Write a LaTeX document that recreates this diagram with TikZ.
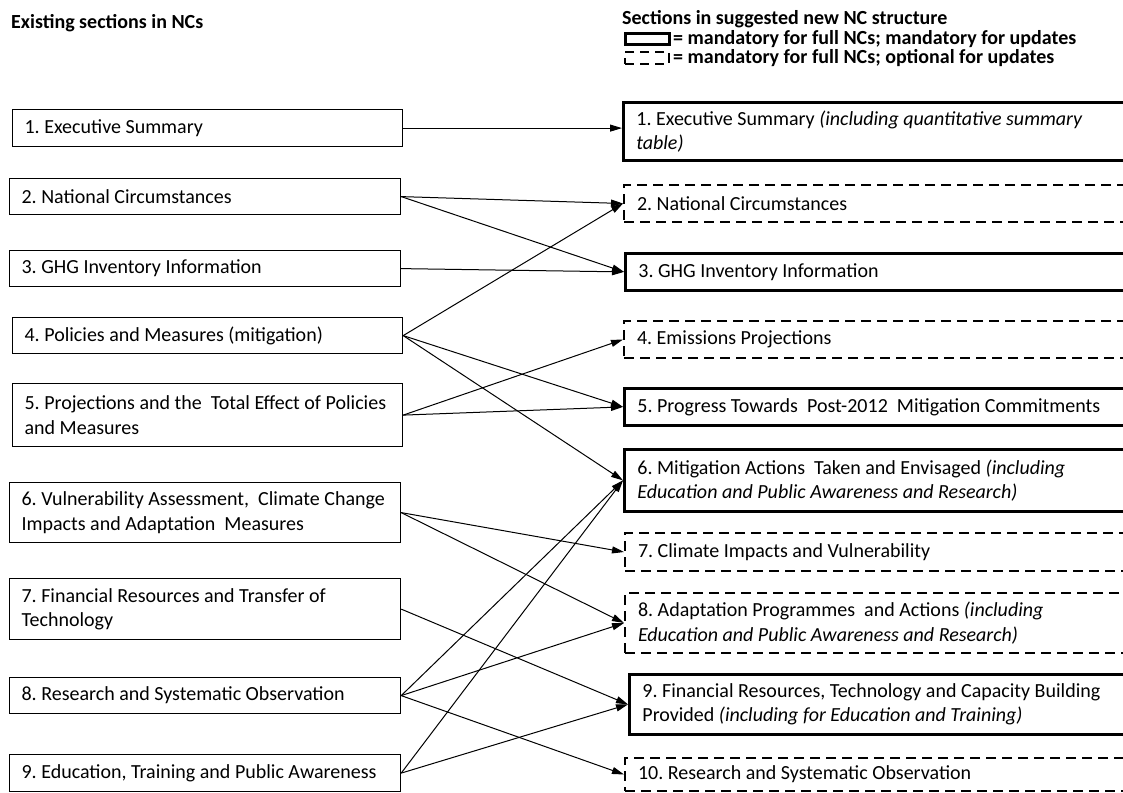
\documentclass[tikz,border=0pt]{standalone}
\usepackage{fontspec}
\setmainfont{Carlito}
\usetikzlibrary{arrows.meta}
\frenchspacing
\hyphenpenalty=10000
\begin{document}
\begin{tikzpicture}[x=1pt,y=-1pt,
  every node/.style={font=\fontsize{20}{24.4}\selectfont},
  lbox/.style={draw, line width=1.2pt, anchor=north west, align=flush left,
    text width=#1, inner xsep=12pt, inner ysep=0pt},
  rbase/.style={anchor=north west, align=flush left, text width=487pt,
    inner xsep=13pt, inner ysep=0pt},
  thickbox/.style={rbase, draw, line width=2.8pt},
  dashbox/.style={rbase, draw, line width=2pt, dash pattern=on 10pt off 6pt},
  hdr/.style={font=\fontsize{20}{22}\selectfont\bfseries, inner sep=0pt, anchor=west},
  conn/.style={line width=1pt, -{Triangle[length=12pt,width=7pt]}}
]
\useasboundingbox (0,0) rectangle (1123,792);
\clip (0,0) rectangle (1123,792);

% headers
\node[hdr] (hl) at (11,23) {Existing sections in NCs};
\node[hdr] (hr) at (622,19) {Sections in suggested new NC structure};
\node[draw, line width=2.8pt, inner sep=0pt, minimum width=44pt, minimum height=11pt, anchor=west] (lg1) at (624,39) {};
\node[hdr] (lg1t) at (673,39) {= mandatory for full NCs; mandatory for updates};
\node[draw, line width=2pt, dash pattern=on 9pt off 6pt, inner sep=0pt, minimum width=44pt, minimum height=11pt, anchor=west] (lg2) at (624,58) {};
\node[hdr] (lg2t) at (673,58) {= mandatory for full NCs; optional for updates};

% left boxes
\node[lbox=366pt, minimum height=37pt] (l1) at (12,109) {1. Executive Summary};
\node[lbox=367pt, minimum height=36pt] (l2) at (9,178) {2. National Circumstances};
\node[lbox=367pt, minimum height=36pt] (l3) at (9,250) {3. GHG Inventory Information};
\node[lbox=366pt, minimum height=36pt] (l4) at (12,317) {4. Policies and Measures (mitigation)};
\node[lbox=366pt, minimum height=63pt] (l5) at (12,383) {5. Projections and the\ \ Total Effect of Policies\\and Measures};
\node[lbox=367pt, minimum height=60pt] (l6) at (9,482) {6. Vulnerability Assessment,\ \ Climate Change\\Impacts and Adaptation\ \ Measures};
\node[lbox=367pt, minimum height=61pt] (l7) at (9,578) {7. Financial Resources and Transfer of\\Technology};
\node[lbox=367pt, minimum height=36pt] (l8) at (9,677) {8. Research and Systematic Observation};
\node[lbox=367pt, minimum height=37pt] (l9) at (9,754) {9. Education, Training and Public Awareness};

% right boxes
\node[thickbox, minimum height=58pt] (r1) at (622,101) {1. Executive Summary \textit{(including quantitative summary}\\\textit{table)}};
\node[dashbox, minimum height=37pt] (r2) at (623,184) {2. National Circumstances};
\node[thickbox, minimum height=37pt] (r3) at (624,252) {3. GHG Inventory Information};
\node[dashbox, minimum height=37pt] (r4) at (623,320) {4. Emissions Projections};
\node[thickbox, minimum height=37pt] (r5) at (623,387) {5. Progress Towards\ \ Post-2012\ \ Mitigation Commitments};
\node[thickbox, minimum height=62pt] (r6) at (623,448) {6. Mitigation Actions\ \ Taken and Envisaged \textit{(including}\\\textit{Education and Public Awareness and Research)}};
\node[dashbox, minimum height=38pt] (r7) at (624,532) {7. Climate Impacts and Vulnerability};
\node[dashbox, minimum height=60pt] (r8) at (624,592) {8. Adaptation Programmes\ \ and Actions \textit{(including}\\\textit{Education and Public Awareness and Research)}};
\node[thickbox, minimum height=60pt] (r9) at (628,673) {9. Financial Resources, Technology and Capacity Building\\Provided \textit{(including for Education and Training)}};
\node[dashbox, minimum height=33pt] (r10) at (624,757) {10. Research and Systematic Observation};

% connectors
\draw[conn] (l1.east) -- (r1.west |- l1.east);
\draw[conn] (l2.east) -- (r2.west);
\draw[conn] (l2.east) -- (r3.west);
\draw[conn] (l3.east) -- (r3.west);
\draw[conn] (l4.east) -- (r2.west);
\draw[conn] (l4.east) -- (r5.west);
\draw[conn] (l4.east) -- (r6.west);
\draw[conn] (l5.east) -- (r4.west);
\draw[conn] (l5.east) -- (r5.west);
\draw[conn] (l6.east) -- (r7.west);
\draw[conn] (l6.east) -- (r8.west);
\draw[conn] (l7.east) -- (r9.west);
\draw[conn] (l8.east) -- (r6.west);
\draw[conn] (l8.east) -- (r8.west);
\draw[conn] (l8.east) -- (r10.west);
\draw[conn] (l9.east) -- (r6.west);
\draw[conn] (l9.east) -- (r9.west);
\end{tikzpicture}
\end{document}
